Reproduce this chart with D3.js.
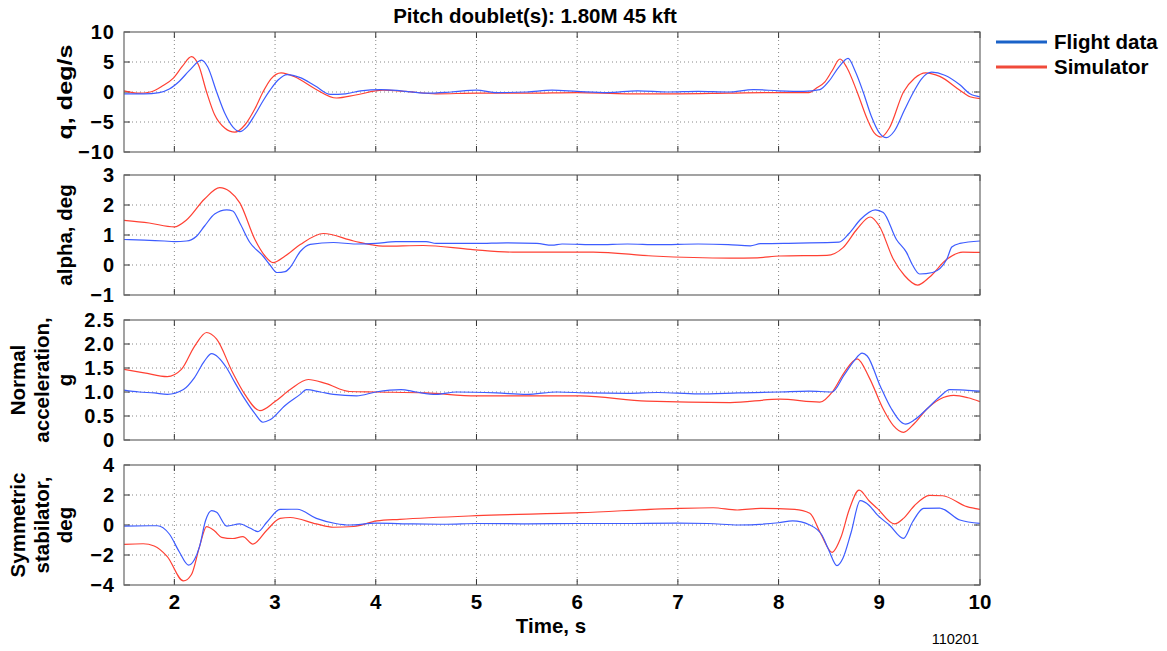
<!DOCTYPE html>
<html>
<head>
<meta charset="utf-8">
<script src="https://cdn.jsdelivr.net/npm/d3@7"></script>
<style>
  body { margin: 0; background: white; }
  text { font-family: "Liberation Sans", Arial, sans-serif; }
</style>
</head>
<body>
<div id="container"></div>
<script>
let w = 1167;
let h = 651;
let left = 124, right = 980;

// DATA  [time s, value]
let qFlight = [[1.5,-0.3],[1.7,-0.3],[1.85,-0.1],[1.95,0.5],[2.05,1.8],[2.15,3.6],[2.27,5.3],[2.33,4.2],[2.42,0],[2.5,-3.5],[2.58,-5.8],[2.65,-6.6],[2.72,-5.8],[2.8,-3.8],[2.88,-1.5],[2.95,0.3],[3.03,2.0],[3.12,2.9],[3.25,2.4],[3.4,1.0],[3.55,-0.4],[3.7,-0.3],[3.85,0.2],[4.05,0.4],[4.25,0.2],[4.5,-0.2],[4.75,0],[5.0,0.3],[5.2,-0.1],[5.5,0],[5.75,0.3],[6.0,0.1],[6.3,-0.1],[6.6,0.2],[6.9,0],[7.2,0.1],[7.5,0],[7.75,0.4],[8.0,0.2],[8.25,0.1],[8.41,0.4],[8.5,1.8],[8.6,4.2],[8.69,5.6],[8.76,3.5],[8.84,0],[8.92,-4],[9.0,-6.8],[9.07,-7.6],[9.15,-6.5],[9.25,-3],[9.34,0],[9.42,2.2],[9.52,3.3],[9.65,2.8],[9.8,1.2],[9.9,-0.3],[10,-0.8]];
let qSim = [[1.5,0.2],[1.65,-0.2],[1.76,0],[1.88,1.0],[1.99,2.3],[2.08,4.3],[2.17,5.9],[2.24,4.5],[2.32,0],[2.4,-3.8],[2.5,-6.0],[2.6,-6.7],[2.7,-5.5],[2.8,-2.8],[2.88,0],[2.96,2.2],[3.06,3.2],[3.2,2.5],[3.4,0.5],[3.61,-1.0],[3.8,-0.5],[4.07,0.3],[4.3,0.1],[4.6,-0.3],[5.0,-0.2],[5.5,-0.2],[6.0,-0.1],[6.5,-0.3],[7.0,-0.3],[7.5,-0.2],[8.0,-0.1],[8.3,-0.1],[8.38,0.7],[8.46,1.7],[8.53,3.5],[8.61,5.5],[8.68,4.0],[8.78,0],[8.88,-4.5],[8.95,-6.8],[9.02,-7.5],[9.1,-6.0],[9.24,0],[9.35,2.3],[9.46,3.2],[9.6,2.6],[9.8,0.3],[9.9,-0.8],[10,-1.1]];

let alphaFlight = [[1.5,0.85],[1.7,0.83],[1.9,0.8],[2.0,0.78],[2.12,0.8],[2.22,0.96],[2.3,1.3],[2.4,1.7],[2.52,1.84],[2.58,1.8],[2.65,1.4],[2.75,0.75],[2.88,0.3],[2.95,0],[3.02,-0.25],[3.1,-0.22],[3.15,-0.08],[3.25,0.45],[3.35,0.69],[3.58,0.75],[3.8,0.7],[4.0,0.72],[4.2,0.78],[4.5,0.78],[4.6,0.72],[5.0,0.72],[5.3,0.74],[5.6,0.72],[5.75,0.66],[5.85,0.7],[6.2,0.68],[6.5,0.7],[6.8,0.68],[7.2,0.7],[7.5,0.68],[7.72,0.64],[7.82,0.71],[8.2,0.73],[8.6,0.76],[8.7,1.05],[8.81,1.51],[8.96,1.84],[9.04,1.75],[9.17,0.85],[9.27,0.42],[9.33,0.0],[9.4,-0.3],[9.53,-0.25],[9.67,0.19],[9.72,0.6],[9.8,0.72],[10,0.8]];
let alphaSim = [[1.5,1.49],[1.75,1.4],[2.0,1.27],[2.12,1.5],[2.3,2.2],[2.45,2.58],[2.55,2.45],[2.65,2.07],[2.8,0.85],[2.9,0.3],[2.98,0.08],[3.1,0.3],[3.25,0.68],[3.48,1.05],[3.78,0.8],[4.07,0.63],[4.47,0.65],[4.94,0.52],[5.36,0.43],[6.16,0.43],[6.75,0.3],[7.52,0.23],[7.79,0.24],[8.01,0.3],[8.48,0.32],[8.64,0.58],[8.78,1.2],[8.91,1.6],[9.0,1.3],[9.14,0.19],[9.25,-0.35],[9.38,-0.67],[9.5,-0.4],[9.67,0.19],[9.83,0.43],[10,0.42]];

let nzFlight = [[1.5,1.04],[1.65,1.0],[1.8,0.98],[1.93,0.95],[2.09,1.05],[2.2,1.3],[2.3,1.65],[2.37,1.8],[2.52,1.5],[2.6,1.2],[2.7,0.85],[2.8,0.55],[2.88,0.37],[2.95,0.42],[3.1,0.72],[3.25,0.95],[3.31,1.05],[3.45,1.0],[3.58,0.95],[3.81,0.92],[4.0,1.0],[4.25,1.05],[4.4,1.0],[4.6,0.95],[4.8,1.0],[5.2,0.98],[5.5,0.95],[5.8,1.0],[6.1,0.98],[6.5,0.97],[6.8,0.99],[7.2,0.96],[7.6,0.98],[8.0,1.0],[8.3,1.02],[8.53,1.0],[8.65,1.35],[8.75,1.65],[8.83,1.81],[8.88,1.75],[9.01,1.12],[9.12,0.65],[9.26,0.33],[9.35,0.42],[9.47,0.64],[9.6,0.9],[9.7,1.05],[9.85,1.04],[10,1.02]];
let nzSim = [[1.5,1.47],[1.7,1.4],[1.93,1.32],[2.07,1.47],[2.2,1.95],[2.32,2.24],[2.42,2.1],[2.58,1.4],[2.7,0.95],[2.85,0.61],[3.0,0.8],[3.15,1.05],[3.33,1.26],[3.5,1.18],[3.74,1.01],[4.0,1.0],[4.5,0.98],[5.0,0.92],[6.03,0.92],[6.69,0.81],[7.52,0.78],[8.01,0.85],[8.41,0.79],[8.54,1.02],[8.65,1.4],[8.78,1.69],[8.9,1.3],[9.04,0.64],[9.14,0.3],[9.24,0.16],[9.35,0.35],[9.47,0.64],[9.6,0.85],[9.74,0.93],[9.88,0.88],[10,0.8]];

let stabFlight = [[1.5,-0.07],[1.83,-0.05],[1.95,-0.6],[2.05,-1.8],[2.14,-2.67],[2.2,-2.3],[2.25,-1.44],[2.31,0.3],[2.37,0.96],[2.42,0.85],[2.52,-0.07],[2.65,0.07],[2.75,-0.2],[2.83,-0.44],[2.92,0.2],[3.05,1.04],[3.22,1.05],[3.41,0.44],[3.6,0.1],[3.74,0],[4.0,0.12],[4.37,0.07],[4.7,0.05],[5.0,0.1],[5.5,0.08],[6.0,0.1],[6.5,0.1],[7.0,0.12],[7.3,0.1],[7.6,0.0],[8.0,0.15],[8.14,0.27],[8.31,0.0],[8.43,-0.67],[8.5,-1.7],[8.58,-2.71],[8.64,-2.2],[8.72,-0.5],[8.81,1.62],[8.9,1.3],[8.98,0.67],[9.1,0.0],[9.24,-0.89],[9.33,0.2],[9.44,1.11],[9.6,1.13],[9.8,0.33],[10,0.11]];
let stabSim = [[1.5,-1.29],[1.69,-1.25],[1.8,-1.4],[1.93,-2.11],[2.09,-3.73],[2.17,-3.3],[2.25,-1.44],[2.32,-0.11],[2.4,-0.4],[2.47,-0.82],[2.58,-0.9],[2.68,-0.78],[2.78,-1.27],[2.92,-0.33],[3.05,0.44],[3.15,0.5],[3.41,0.07],[3.58,-0.15],[3.78,-0.1],[4.01,0.27],[4.24,0.38],[5.0,0.62],[6.03,0.82],[7.0,1.11],[7.35,1.15],[7.59,1.0],[7.82,1.11],[8.16,1.04],[8.31,0.78],[8.42,-0.6],[8.53,-1.82],[8.62,-0.8],[8.7,1.0],[8.8,2.33],[8.9,1.6],[8.98,1.11],[9.15,0.07],[9.24,0.44],[9.35,1.3],[9.5,1.98],[9.63,1.95],[9.87,1.22],[10,1.04]];

let xTicks = [2, 3, 4, 5, 6, 7, 8, 9, 10];
let panelLabels = [["q, deg/s"], ["alpha, deg"], ["Normal", "acceleration,", "g"], ["Symmetric", "stabilator,", "deg"]];
let yDomains = [[-10, 10], [-1, 3], [0, 2.5], [-4, 4]];
let yTicks = [[-10, -5, 0, 5, 10], [-1, 0, 1, 2, 3], [0, 0.5, 1, 1.5, 2, 2.5], [-4, -2, 0, 2, 4]];
let yTickText = [["−10", "−5", "0", "5", "10"], ["−1", "0", "1", "2", "3"], ["0", "0.5", "1.0", "1.5", "2.0", "2.5"], ["−4", "−2", "0", "2", "4"]];
let flightSeries = [qFlight, alphaFlight, nzFlight, stabFlight];
let simSeries = [qSim, alphaSim, nzSim, stabSim];
let legendNames = ["Flight data", "Simulator"];

let panelTops = [32, 175, 320, 465];
let panelH = 120;

let plotBlue = "#3d5cff";
let plotRed = "#ff4033";

let viz = d3.select("#container").append("svg")
    .attr("width", w)
    .attr("height", h)
    .style("background-color", "white");

let x = d3.scaleLinear().domain([1.5, 10]).range([left, right]);

viz.append("text")
    .attr("x", 535).attr("y", 23)
    .attr("text-anchor", "middle")
    .attr("font-size", 20.5).attr("font-weight", "bold")
    .text("Pitch doublet(s): 1.80M 45 kft");

panelTops.forEach((top, i) => {
    let bottom = top + panelH;
    let y = d3.scaleLinear().domain(yDomains[i]).range([bottom, top]);
    let g = viz.append("g");

    // grid
    g.selectAll(".vgrid").data(xTicks.filter(t => t < 10)).enter()
        .append("line")
        .attr("x1", d => x(d)).attr("x2", d => x(d))
        .attr("y1", top).attr("y2", bottom)
        .attr("stroke", "#888").attr("stroke-width", 1)
        .attr("stroke-dasharray", "1,3");
    g.selectAll(".hgrid").data(yTicks[i].filter(t => t != yDomains[i][0] && t != yDomains[i][1])).enter()
        .append("line")
        .attr("x1", left).attr("x2", right)
        .attr("y1", d => y(d)).attr("y2", d => y(d))
        .attr("stroke", "#888").attr("stroke-width", 1)
        .attr("stroke-dasharray", "1,3");

    // inner ticks
    xTicks.forEach(t => {
        g.append("line").attr("x1", x(t)).attr("x2", x(t)).attr("y1", top).attr("y2", top + 6)
            .attr("stroke", "#333");
        g.append("line").attr("x1", x(t)).attr("x2", x(t)).attr("y1", bottom).attr("y2", bottom - 6)
            .attr("stroke", "#333");
    });
    yTicks[i].forEach(t => {
        g.append("line").attr("x1", left).attr("x2", left + 6).attr("y1", y(t)).attr("y2", y(t))
            .attr("stroke", "#333");
        g.append("line").attr("x1", right).attr("x2", right - 6).attr("y1", y(t)).attr("y2", y(t))
            .attr("stroke", "#333");
    });

    // clip
    viz.append("clipPath").attr("id", "clip" + i)
        .append("rect").attr("x", left).attr("y", top).attr("width", right - left).attr("height", panelH);

    let line = d3.line()
        .x(d => x(d[0]))
        .y(d => y(d[1]))
        .curve(d3.curveMonotoneX);

    g.append("path").datum(simSeries[i])
        .attr("clip-path", "url(#clip" + i + ")")
        .attr("d", line).attr("fill", "none")
        .attr("stroke", plotRed).attr("stroke-width", 1.2);
    g.append("path").datum(flightSeries[i])
        .attr("clip-path", "url(#clip" + i + ")")
        .attr("d", line).attr("fill", "none")
        .attr("stroke", plotBlue).attr("stroke-width", 1.2);

    // frame
    g.append("rect").attr("x", left).attr("y", top).attr("width", right - left).attr("height", panelH)
        .attr("fill", "none").attr("stroke", "#666").attr("stroke-width", 1.2);

    // y tick labels
    g.selectAll(".ylab").data(yTicks[i]).enter()
        .append("text")
        .attr("x", left - 9).attr("y", d => y(d))
        .attr("dy", "0.36em")
        .attr("text-anchor", "end")
        .attr("font-size", 20).attr("font-weight", "bold")
        .attr("letter-spacing", 1)
        .text((d, k) => yTickText[i][k]);

    // y axis label
    let lines = panelLabels[i];
    let lh = 23.5;
    let cx = 65 - (lines.length - 1) * lh;
    let lab = g.append("text")
        .attr("transform", "translate(" + (cx + 7) + "," + (top + panelH / 2) + ") rotate(-90)")
        .attr("text-anchor", "middle")
        .attr("font-size", 20.5).attr("font-weight", "bold");
    lines.forEach((s, k) => {
        let t = lab.append("tspan").attr("x", 0).attr("y", k * lh).text(s);
        if (s == "q, deg/s") t.attr("textLength", 95).attr("lengthAdjust", "spacingAndGlyphs");
    });

    // x tick labels on bottom panel
    if (i == 3) {
        g.selectAll(".xlab").data(xTicks).enter()
            .append("text")
            .attr("x", d => x(d)).attr("y", bottom + 24)
            .attr("text-anchor", "middle")
            .attr("font-size", 20.5).attr("font-weight", "bold")
            .text(d => d);
    }
});

viz.append("text")
    .attr("x", 551).attr("y", 633)
    .attr("text-anchor", "middle")
    .attr("font-size", 20.5).attr("font-weight", "bold")
    .text("Time, s");

viz.append("text")
    .attr("x", 979).attr("y", 644)
    .attr("text-anchor", "end")
    .attr("font-size", 14.5)
    .text("110201");

// legend
let legendColors = ["#1a62c8", "#f04a3a"];
legendNames.forEach((name, k) => {
    let ly = 42 + k * 25;
    viz.append("line").attr("x1", 996).attr("x2", 1047).attr("y1", ly).attr("y2", ly)
        .attr("stroke", legendColors[k]).attr("stroke-width", 3);
    viz.append("text").attr("x", 1054).attr("y", ly).attr("dy", "0.36em")
        .attr("font-size", 20.5).attr("font-weight", "bold")
        .text(name);
});
</script>
</body>
</html>
